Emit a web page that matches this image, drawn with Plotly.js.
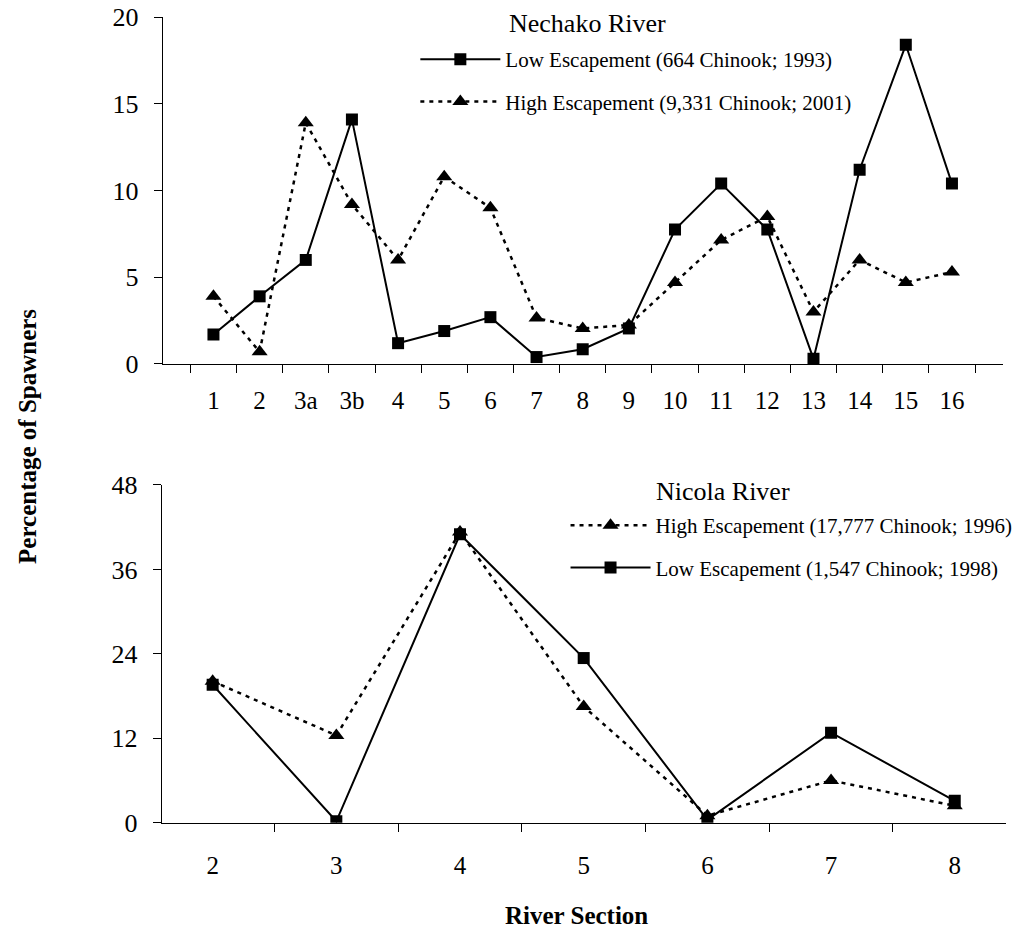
<!DOCTYPE html>
<html>
<head>
<meta charset="utf-8">
<script src="https://cdn.plot.ly/plotly-3.0.1.min.js"></script>
<style>html,body{margin:0;padding:0;background:#fff;}#chart{width:1021px;height:930px;}</style>
</head>
<body>
<div id="chart"></div>
<script>
// Nechako River (top panel)
var nechakoSections = ['1','2','3a','3b','4','5','6','7','8','9','10','11','12','13','14','15','16'];
var nechakoLow  = [1.7, 3.9, 6.0, 14.1, 1.2, 1.9, 2.7, 0.4, 0.85, 2.05, 7.75, 10.4, 7.75, 0.3, 11.2, 18.4, 10.4];
var nechakoHigh = [3.9, 0.7, 13.9, 9.2, 6.0, 10.8, 9.0, 2.65, 2.05, 2.25, 4.7, 7.15, 8.5, 3.0, 6.0, 4.7, 5.3];
var nechakoTicks = [0, 5, 10, 15, 20];

// Nicola River (bottom panel)
var nicolaSections = ['2','3','4','5','6','7','8'];
var nicolaHigh = [20.1, 12.4, 41.3, 16.5, 1.0, 6.0, 2.4];
var nicolaLow  = [19.6, 0.2, 41.0, 23.4, 0.4, 12.8, 3.1];
var nicolaTicks = [0, 12, 24, 36, 48];

var labels = {
  nechakoTitle: 'Nechako River',
  nechakoLow: 'Low Escapement (664 Chinook; 1993)',
  nechakoHigh: 'High Escapement (9,331 Chinook; 2001)',
  nicolaTitle: 'Nicola River',
  nicolaHigh: 'High Escapement (17,777 Chinook; 1996)',
  nicolaLow: 'Low Escapement (1,547 Chinook; 1998)',
  yTitle: 'Percentage of Spawners',
  xTitle: 'River Section'
};

var FONT = 'Liberation Serif, Times New Roman, serif';
var solidLine = {color: '#000', width: 2};
var dotLine = {color: '#000', width: 2.5, dash: '4px,5px'};
var sq = {symbol: 'square', size: 12, color: '#000'};
var tri = {symbol: 'triangle-up', size: 14, color: '#000'};

var traces = [
  {x: nechakoSections, y: nechakoLow, name: labels.nechakoLow, type: 'scatter', mode: 'lines+markers',
   line: solidLine, marker: sq, xaxis: 'x', yaxis: 'y', legend: 'legend', legendgroup: 'a'},
  {x: nechakoSections, y: nechakoHigh, name: labels.nechakoHigh, type: 'scatter', mode: 'lines+markers',
   line: dotLine, marker: tri, xaxis: 'x', yaxis: 'y', legend: 'legend', legendgroup: 'b'},
  {x: nicolaSections, y: nicolaHigh, name: labels.nicolaHigh, type: 'scatter', mode: 'lines+markers',
   line: dotLine, marker: tri, xaxis: 'x2', yaxis: 'y2', legend: 'legend2', legendgroup: 'c'},
  {x: nicolaSections, y: nicolaLow, name: labels.nicolaLow, type: 'scatter', mode: 'lines+markers',
   line: solidLine, marker: sq, xaxis: 'x2', yaxis: 'y2', legend: 'legend2', legendgroup: 'd'}
];

function xAx(domain, anchor, standoff) {
  return {domain: domain, anchor: anchor, type: 'category', tickson: 'boundaries',
    ticks: 'outside', ticklen: 8, tickwidth: 1, tickcolor: '#000',
    showline: true, linecolor: '#000', linewidth: 1, showgrid: false, zeroline: false,
    tickfont: {family: FONT, size: 25, color: '#000'}, ticklabelstandoff: standoff, fixedrange: true};
}
function yAx(domain, anchor, range, vals) {
  return {domain: domain, anchor: anchor, range: range, tickvals: vals, ticktext: vals.map(String),
    ticks: 'outside', ticklen: 8, tickwidth: 1, tickcolor: '#000',
    showline: true, linecolor: '#000', linewidth: 1, showgrid: false, zeroline: false,
    tickfont: {family: FONT, size: 26, color: '#000'}, ticklabelstandoff: 10, fixedrange: true};
}

var legendBase = {bgcolor: 'rgba(0,0,0,0)', borderwidth: 0, xanchor: 'left', yanchor: 'top',
  font: {family: FONT, size: 21, color: '#000'}, itemwidth: 80, traceorder: 'grouped',
  tracegroupgap: 12, itemclick: false, itemdoubleclick: false};

var layout = {
  width: 1021, height: 930,
  margin: {l: 0, r: 0, t: 0, b: 0},
  paper_bgcolor: '#fff', plot_bgcolor: '#fff',
  font: {family: FONT, color: '#000'},
  showlegend: true,
  xaxis: xAx([0.15936, 0.98208], 'y', 14),
  yaxis: yAx([0.6086, 0.9817], 'x', [0, 20], nechakoTicks),
  xaxis2: xAx([0.15838, 0.98501], 'y2', 20),
  yaxis2: yAx([0.1154, 0.4785], 'x2', [0, 48], nicolaTicks),
  legend: Object.assign({}, legendBase, {x: 0.4068, y: 0.958}),
  legend2: Object.assign({}, legendBase, {x: 0.5539, y: 0.457}),
  annotations: [
    {text: labels.nechakoTitle, xref: 'paper', yref: 'paper', x: 0.4966, y: 0.9742,
     xanchor: 'left', yanchor: 'middle', showarrow: false, font: {family: FONT, size: 26, color: '#000'}},
    {text: labels.nicolaTitle, xref: 'paper', yref: 'paper', x: 0.6405, y: 0.4710,
     xanchor: 'left', yanchor: 'middle', showarrow: false, font: {family: FONT, size: 26, color: '#000'}},
    {text: '<b>' + labels.yTitle + '</b>', xref: 'paper', yref: 'paper', x: 0.0274, y: 0.5312,
     xanchor: 'center', yanchor: 'middle', textangle: -90, showarrow: false, font: {family: FONT, size: 25, color: '#000'}},
    {text: '<b>' + labels.xTitle + '</b>', xref: 'paper', yref: 'paper', x: 0.5642, y: 0.0161,
     xanchor: 'center', yanchor: 'middle', showarrow: false, font: {family: FONT, size: 25, color: '#000'}}
  ]
};

Plotly.newPlot('chart', traces, layout, {displayModeBar: false, staticPlot: true});
</script>
</body>
</html>
